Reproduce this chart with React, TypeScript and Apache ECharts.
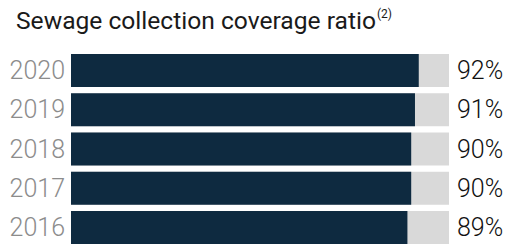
import React, { useEffect, useRef } from "react";
import * as echarts from "echarts";

const years = ["2016", "2017", "2018", "2019", "2020"];
const coverage = [89, 90, 90, 91, 92];
const fullScale = years.map(() => 100);
const titleText = "Sewage collection coverage ratio";
const titleNote = "(2)";

export default function App() {
  const ref = useRef<HTMLDivElement>(null);
  useEffect(() => {
    if (!ref.current) return;
    const chart = echarts.init(ref.current, null, { renderer: "svg" });
    chart.setOption({
      animation: false,
      title: {
        text: `${titleText}{sup|${titleNote}}`,
        left: 11,
        top: 3,
        textStyle: {
          fontFamily: "Roboto",
          fontSize: 24.6,
          fontWeight: "normal",
          color: "#1a1a1a",
          rich: {
            sup: {
              fontFamily: "Roboto",
              fontSize: 12,
              color: "#1a1a1a",
              verticalAlign: "top",
              padding: [0, 0, 10, 1],
            },
          },
        },
      },
      grid: { left: 71, right: 57, top: 51, height: 202 },
      xAxis: { type: "value", min: 0, max: 100, show: false },
      yAxis: {
        type: "category",
        data: years,
        axisLine: { show: false },
        axisTick: { show: false },
        splitLine: { show: false },
        axisLabel: {
          color: "#8c8c8c",
          fontFamily: "Roboto",
          fontWeight: 300,
          fontSize: 25,
          margin: 6,
        },
      },
      series: [
        {
          type: "bar",
          data: fullScale,
          barWidth: 33,
          barGap: "-100%",
          itemStyle: { color: "#d9d9d9" },
          silent: true,
          z: 1,
          label: {
            show: true,
            position: "right",
            distance: 8,
            formatter: (p: any) => `${coverage[p.dataIndex]}%`,
            color: "#111111",
            fontFamily: "Roboto",
            fontWeight: 300,
            fontSize: 25,
          },
        },
        {
          type: "bar",
          data: coverage,
          barWidth: 33,
          barGap: "-100%",
          itemStyle: { color: "#0e2a40" },
          z: 2,
        },
      ],
    });
    return () => chart.dispose();
  }, []);
  return (
    <div
      ref={ref}
      style={{ position: "absolute", left: 0, top: 0, width: 506, height: 247 }}
    />
  );
}
